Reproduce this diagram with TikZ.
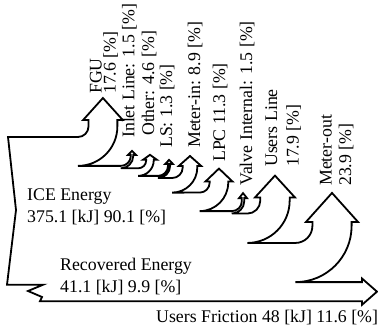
\documentclass[tikz,border=0pt]{standalone}
\usepackage{fontspec}
\setmainfont{Liberation Serif}
\tikzset{
  flow/.style={draw,line width=1.8pt,line join=miter},
  hlbl/.style={anchor=base west,inner sep=0pt,align=left,font=\fontsize{17.8}{21.5}\selectfont},
  vlbl/.style={hlbl,rotate=90}
}
% upward branch: level, width, inner x, radius, shaft length, head height
\newcommand{\upflow}[6]{%
  -- ({#3-#4},{#1})
  .. controls ({#3-0.4477*#4},{#1}) and ({#3},{#1-0.4477*#4}) .. ({#3},{#1-#4})
  -- ({#3},{#1-#5})
  -- ({#3-2.5-0.1*#2},{#1-#5})
  -- ({#3+#2/2},{#1-#5-#6})
  -- ({#3+#2+2.5+0.1*#2},{#1-#5})
  -- ({#3+#2},{#1-#5})
  -- ({#3+#2},{#1-#4})
  .. controls ({#3+#2},{#1-#4+0.5523*(#4+#2)}) and ({#3-#4+0.5523*(#4+#2)},{#1+#2}) .. ({#3-#4},{#1+#2})
}

\begin{document}
\begin{tikzpicture}[x=1pt,y=-1pt]
  \useasboundingbox (0,0) rectangle (378,330);

  % sankey outline
  \draw[flow] (8,137)
    \upflow{137}{28.86}{88.5}{10.5}{17}{22}       % FGU
    \upflow{165.86}{2.46}{130.8}{10}{11}{4}       % inlet line
    \upflow{168.32}{7.54}{146.2}{8}{8.5}{5}       % other
    \upflow{175.87}{2.13}{168}{10}{12}{4}         % LS
    \upflow{178}{14.6}{182.7}{10.5}{12}{10}       % meter-in
    \upflow{192.59}{18.53}{209.7}{10}{11}{13}     % LPC
    \upflow{211.13}{2.46}{241.8}{10}{13}{5}       % valve internal
    \upflow{213.59}{29.36}{260.3}{13}{16}{22}     % users line
    \upflow{242.94}{39.2}{312.4}{17}{21}{29}      % meter-out
    -- (362,282.14) -- (362,278.5) -- (377,291.65) -- (362,304.8) -- (362,301.16)
    -- (40,301.16) -- (42,297) -- (28,291) -- (43,284.76) -- (7,284.76)
    -- (16,210) -- cycle;

  % inputs and friction
  \node[hlbl] (ice) at (27,222) {ICE Energy\\375.1 [kJ] 90.1 [\%]};
  \node[hlbl] (rec) at (60,292) {Recovered Energy\\41.1 [kJ] 9.9 [\%]};
  \node[hlbl] (fric) at (156,322) {Users Friction 48 [kJ] 11.6 [\%]};

  % outputs
  \node[vlbl,font=\fontsize{17.8}{14}\selectfont] (fgu) at (115.7,94) {FGU\\17.6 [\%]};
  \node[vlbl] (inlet) at (134.3,138) {Inlet Line: 1.5 [\%]};
  \node[vlbl] (other) at (154,136) {Other: 4.6 [\%]};
  \node[vlbl] (ls) at (172,148) {LS: 1.3 [\%]};
  \node[vlbl] (mtrin) at (200,148) {Meter-in: 8.9 [\%]};
  \node[vlbl] (lpc) at (225,162) {LPC 11.3 [\%]};
  \node[vlbl] (valve) at (252,186) {Valve Internal: 1.5 [\%]};
  \node[vlbl,font=\fontsize{17.8}{21.5}\selectfont] (usrline) at (298.5,167) {Users Line\\17.9 [\%]};
  \node[vlbl,font=\fontsize{17.8}{19.5}\selectfont] (mtrout) at (351,186) {Meter-out\\23.9 [\%]};
\end{tikzpicture}
\end{document}
